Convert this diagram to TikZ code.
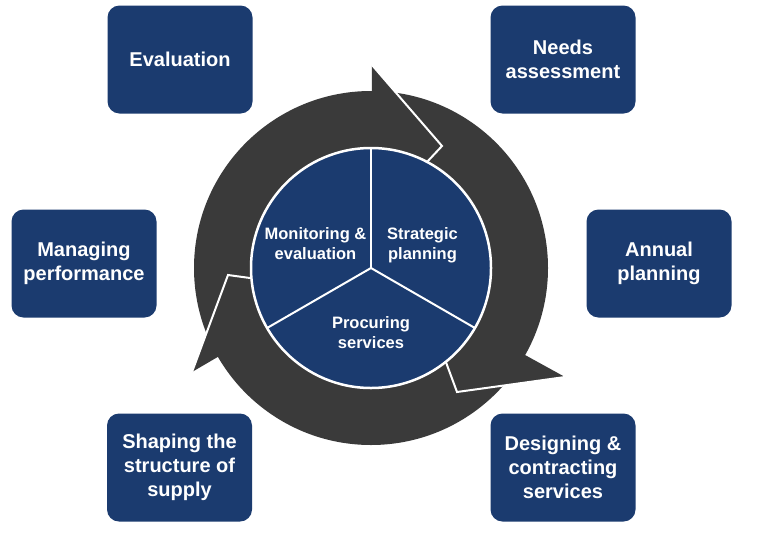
\documentclass[tikz,border=0pt]{standalone}
\usepackage{fontspec}
\setmainfont{Liberation Sans}
\definecolor{boxblue}{HTML}{1B3B6F}
\definecolor{ringgrey}{HTML}{3A3A3A}
\begin{document}
\begin{tikzpicture}[x=1pt,y=-1pt,
  box/.style={fill=boxblue, rounded corners=12pt, minimum width=145pt, minimum height=108pt,
    inner sep=0pt, text=white, align=center, font=\bfseries\fontsize{20}{24}\selectfont},
  pietext/.style={text=white, align=center, inner sep=0pt, font=\bfseries\fontsize{16.5}{20}\selectfont},
  headedge/.style={draw=white, line width=2pt, line join=miter},
  headfill/.style={fill=ringgrey}]
\useasboundingbox (0,0) rectangle (760,536);
\fill[white] (0,0) rectangle (760,536);

% boxes
\node[box] (eval)   at (180,59.5)  {Evaluation};
\node[box] (needs)  at (563,59.5)  {Needs\\assessment};
\node[box] (manage) at (84,263.5)  {Managing\\performance};
\node[box] (annual) at (659,263.5) {Annual\\planning};
\node[box] (shape)  at (179.5,467.5) {Shaping the\\structure of\\supply};
\node[box] (design) at (563,467.5) {Designing \&\\contracting\\services};

% ring
\coordinate (c) at (371,268);
\fill[ringgrey] (c) circle (177pt);

% arrow heads
\fill[headfill] (372,65)--(442,146)--(412,178)--(371,170)--cycle;
\draw[headedge] (372,65)--(442,146)--(412,178);
\fill[headfill] (565,377)--(457,392)--(437,338)--(456,317)--cycle;
\draw[headedge] (565,377)--(457,392)--(437,338);
\fill[headfill] (192,372)--(228,275)--(272,281)--(286,317)--cycle;
\draw[headedge] (192,372)--(228,275)--(272,281);

% pie
\fill[boxblue] (c) circle (120pt);
\coordinate (pu) at (371,148);
\coordinate (pl) at (267.1,328);
\coordinate (pr) at (474.9,328);
\draw[white, line width=2pt] (c) -- (pu);
\draw[white, line width=2pt] (c) -- (pl);
\draw[white, line width=2pt] (c) -- (pr);
\draw[white, line width=2.5pt] (c) circle (120pt);

\node[pietext] (mon)   at (315.5,243.5) {Monitoring \&\\evaluation};
\node[pietext] (strat) at (422.5,245) {Strategic\\planning};
\node[pietext] (proc)  at (371,332.5) {Procuring\\services};
\end{tikzpicture}
\end{document}
